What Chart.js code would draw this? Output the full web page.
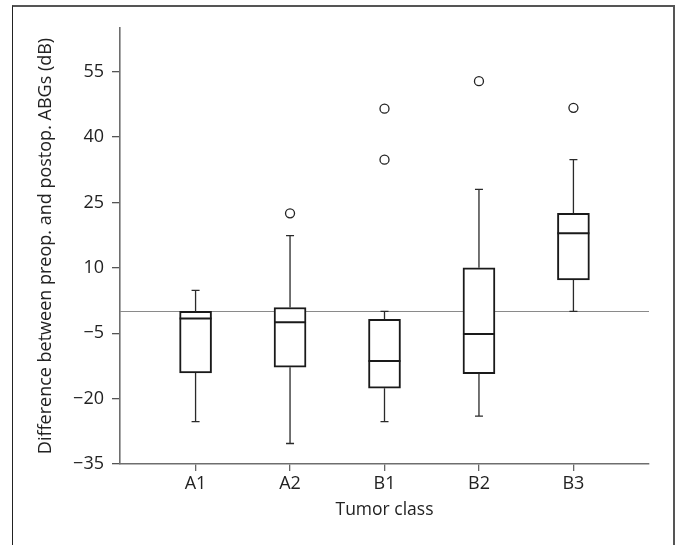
<!DOCTYPE html>
<html>
<head>
<meta charset="utf-8">
<script src="https://cdn.jsdelivr.net/npm/chart.js@4/dist/chart.umd.min.js"></script>
<style>
  html, body { margin: 0; padding: 0; background: #ffffff; }
  #wrap { position: relative; width: 678px; height: 545px; overflow: hidden; background: #fff; }
  #frame { position: absolute; left: 12px; top: 5px; width: 663px; height: 700px; box-sizing: border-box;
           border-left: 1.5px solid #222; border-top: 2px solid #555; border-right: 2px solid #555; }
  canvas { position: absolute; left: 0; top: 0; }
</style>
</head>
<body>
<div id="wrap">
  <div id="frame"></div>
  <canvas id="c" width="678" height="545"></canvas>
</div>
<script>
// ---- Data ----
const categories = ['A1', 'A2', 'B1', 'B2', 'B3'];
const whiskerMin = [-25.3, -30.3, -25.3, -24.0, 0];
const q1         = [-14.1, -12.8, -17.6, -14.3, 7.2];
const median     = [-1.6, -2.5, -11.4, -5.2, 17.9];
const q3         = [0, 0.9, -1.8, 10, 22.5];
const whiskerMax = [4.8, 17.4, 0, 28, 34.8];
const outliers   = [[], [22.5], [46.5, 34.8], [52.8], [46.7]];
const yTicks     = [-35, -20, -5, 10, 25, 40, 55];
const refLineY   = 0;

const FONT = "'Open Sans', 'Noto Sans', sans-serif";
const positions = categories.map((_, i) => i + 1);

const boxData = positions.map((x, i) => ({ x: x, y: [q1[i], q3[i]] }));
const outlierData = [];
outliers.forEach((arr, i) => arr.forEach(v => outlierData.push({ x: positions[i], y: v })));

const boxPlugin = {
  id: 'boxParts',
  beforeDatasetsDraw(chart) {
    const { ctx, chartArea, scales: { y } } = chart;
    const py = Math.round(y.getPixelForValue(refLineY)) + 0.5;
    ctx.save();
    ctx.strokeStyle = '#8a8a8a';
    ctx.lineWidth = 1.2;
    ctx.beginPath();
    ctx.moveTo(chartArea.left, py);
    ctx.lineTo(chartArea.right, py);
    ctx.stroke();
    ctx.restore();
  },
  afterDatasetsDraw(chart) {
    const { ctx, scales: { y } } = chart;
    const meta = chart.getDatasetMeta(0);
    ctx.save();
    meta.data.forEach((bar, i) => {
      const cx = bar.x;
      const half = bar.width / 2;
      const capHalf = 4;
      ctx.strokeStyle = '#2a2a2a';
      ctx.lineWidth = 1.3;
      const yQ3 = y.getPixelForValue(q3[i]);
      const yQ1 = y.getPixelForValue(q1[i]);
      const yMax = y.getPixelForValue(whiskerMax[i]);
      const yMin = y.getPixelForValue(whiskerMin[i]);
      ctx.beginPath();
      ctx.moveTo(cx, yQ3); ctx.lineTo(cx, yMax);
      ctx.moveTo(cx - capHalf, yMax); ctx.lineTo(cx + capHalf, yMax);
      ctx.moveTo(cx, yQ1); ctx.lineTo(cx, yMin);
      ctx.moveTo(cx - capHalf, yMin); ctx.lineTo(cx + capHalf, yMin);
      ctx.stroke();
      ctx.strokeStyle = '#1a1a1a';
      ctx.lineWidth = 2;
      const yMed = y.getPixelForValue(median[i]);
      ctx.beginPath();
      ctx.moveTo(cx - half, yMed); ctx.lineTo(cx + half, yMed);
      ctx.stroke();
    });
    ctx.restore();
  }
};

new Chart(document.getElementById('c'), {
  type: 'bar',
  data: {
    datasets: [
      {
        type: 'bar',
        data: boxData,
        backgroundColor: '#ffffff',
        borderColor: '#1a1a1a',
        borderWidth: 2,
        borderSkipped: false,
        barThickness: 32,
        order: 2
      },
      {
        type: 'scatter',
        data: outlierData,
        pointStyle: 'circle',
        pointRadius: 4.5,
        pointBackgroundColor: '#ffffff',
        pointBorderColor: '#222222',
        pointBorderWidth: 1.3,
        order: 1
      }
    ]
  },
  options: {
    responsive: false,
    animation: false,
    layout: { padding: { left: 0, right: 29, top: 28, bottom: 20 } },
    plugins: { legend: { display: false }, tooltip: { enabled: false } },
    scales: {
      x: {
        type: 'linear',
        min: 0.2,
        max: 5.8,
        offset: false,
        afterBuildTicks: (s) => { s.ticks = positions.map(v => ({ value: v })); },
        afterFit: (s) => { s.height = 61; },
        ticks: {
          font: { family: FONT, size: 18 },
          color: '#222',
          padding: 2,
          callback: (v) => categories[Math.round(v) - 1] || ''
        },
        grid: { offset: false, drawOnChartArea: false, drawTicks: true, tickLength: 7, tickColor: '#666', lineWidth: 1.3 },
        border: { display: true, color: '#6e6e6e', width: 1.6 },
        title: { display: true, text: 'Tumor class', font: { family: FONT, size: 17.5 }, color: '#222', padding: { top: 0, bottom: 4 } }
      },
      y: {
        type: 'linear',
        min: -35,
        max: 65,
        afterBuildTicks: (s) => { s.ticks = yTicks.map(v => ({ value: v })); },
        afterFit: (s) => { s.width = 120; },
        ticks: {
          font: { family: FONT, size: 18 },
          color: '#222',
          padding: 8,
          callback: (v) => (v < 0 ? '\u2212' + Math.abs(v) : String(v))
        },
        grid: { drawOnChartArea: false, drawTicks: true, tickLength: 8, tickColor: '#555', lineWidth: 1.3 },
        border: { display: true, color: '#6e6e6e', width: 1.6 },
        title: { display: true, text: 'Difference between preop. and postop. ABGs (dB)', font: { family: FONT, size: 18 }, color: '#222', padding: { top: 35, bottom: 0 } }
      }
    }
  },
  plugins: [boxPlugin]
});
</script>
</body>
</html>
